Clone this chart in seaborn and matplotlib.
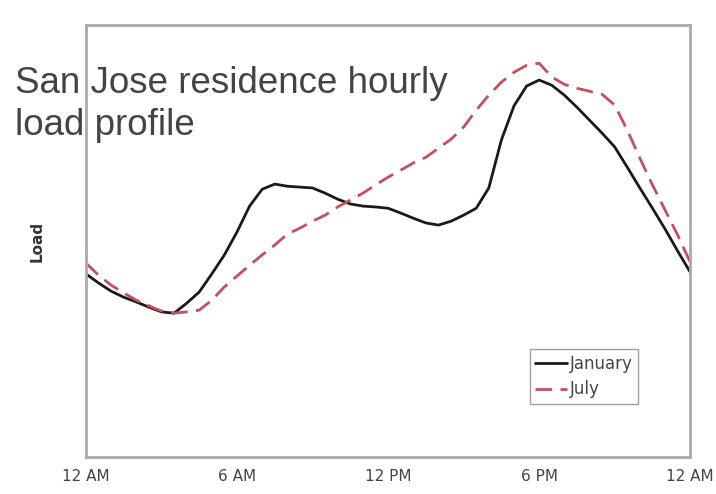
import numpy as np
import pandas as pd
import seaborn as sns
import matplotlib
matplotlib.use("Agg")
import matplotlib.pyplot as plt

# half-hourly readings, relative load (0-100)
hours = [i * 0.5 for i in range(49)]
january = [42.4, 40.3, 38.4, 37.0, 35.9, 34.7, 33.6, 33.3, 35.6, 38.2,
           42.4, 46.8, 52.1, 58.1, 62.0, 63.2, 62.7, 62.5, 62.3, 61.1,
           59.7, 58.6, 58.1, 57.9, 57.6, 56.5, 55.3, 54.2, 53.7, 54.6,
           56.0, 57.6, 62.3, 73.4, 81.3, 85.9, 87.3, 86.1, 83.8, 81.0,
           78.0, 75.0, 71.8, 67.1, 62.3, 57.6, 52.8, 47.7, 42.8]
july = [44.9, 42.1, 39.8, 38.0, 36.3, 35.0, 33.8, 33.3, 33.6, 34.0,
        36.3, 39.4, 41.9, 44.4, 46.8, 49.1, 51.6, 53.0, 54.6, 56.0,
        57.9, 59.5, 61.1, 63.0, 64.8, 66.4, 68.1, 69.4, 71.5, 73.6,
        76.4, 80.3, 83.8, 86.8, 89.1, 90.7, 91.2, 88.0, 86.3, 85.4,
        84.7, 84.0, 81.5, 75.7, 69.2, 63.0, 57.2, 51.4, 45.1]
tick_pos = [0, 6, 12, 18, 24]
tick_labels = ["12 AM", "6 AM", "12 PM", "6 PM", "12 AM"]

df = pd.DataFrame({
    "hour": hours * 2,
    "load": january + july,
    "month": ["January"] * len(hours) + ["July"] * len(hours),
})

sns.set_style("white")
plt.rcParams["font.family"] = ["DejaVu Sans"]

fig = plt.figure(figsize=(7.16, 4.94), dpi=100)
ax = fig.add_axes([0.120, 0.075, 0.844, 0.874])

sns.lineplot(data=df, x="hour", y="load", hue="month", style="month",
             palette={"January": "#1a1a1a", "July": "#c4505c"},
             dashes={"January": "", "July": (6, 3)},
             linewidth=2, ax=ax)

ax.set_xlim(0, 24)
ax.set_ylim(0, 100)
ax.set_xticks(tick_pos)
ax.set_xticklabels(tick_labels, fontsize=11, color="#444444")
ax.set_yticks([])
ax.tick_params(axis="x", direction="out", length=3, width=1, color="#999999", pad=6)
ax.set_xlabel("")
ax.set_ylabel("Load", fontsize=11, fontweight="bold", color="#333333", labelpad=30)
for s in ax.spines.values():
    s.set_color("#aaaaaa")
    s.set_linewidth(2)

leg = ax.legend(loc="lower right", bbox_to_anchor=(0.914, 0.122), fontsize=12,
                frameon=True, fancybox=False, handlelength=1.9, handletextpad=0.15,
                borderpad=0.35, labelspacing=0.45, borderaxespad=0)
leg.get_frame().set_edgecolor("#888888")
leg.get_frame().set_linewidth(1)
for t in leg.get_texts():
    t.set_color("#444444")

fig.text(15 / 716, 1 - 135 / 494, "San Jose residence hourly\nload profile",
         fontsize=26.5, color="#444444", va="baseline", ha="left",
         linespacing=1.25, family=["Liberation Sans", "DejaVu Sans"])

fig.savefig("out.png", dpi=100)
